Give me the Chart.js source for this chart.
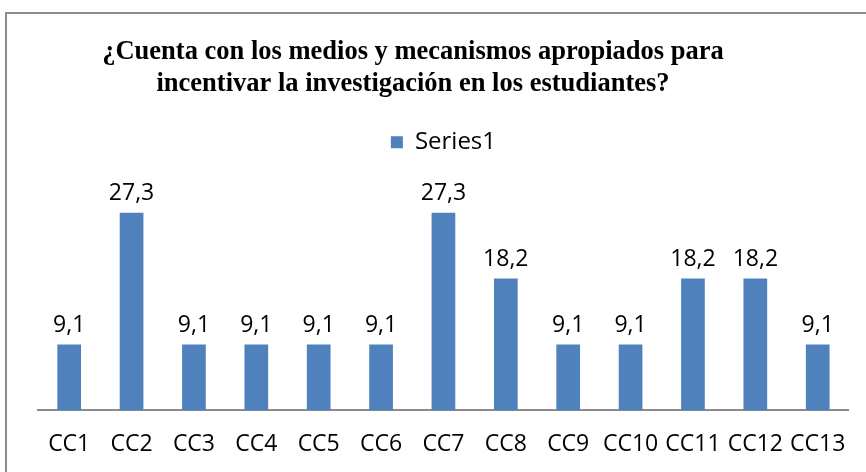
<!DOCTYPE html>
<html>
<head>
<meta charset="utf-8">
<script src="https://cdn.jsdelivr.net/npm/chart.js@4"></script>
<style>
  html, body { margin: 0; padding: 0; background: #fff; }
  #wrap { position: relative; width: 866px; height: 472px; overflow: hidden; }
  #frame { position: absolute; left: 5px; top: 12px; width: 900px; height: 500px; border: 2px solid #8c8c8c; }
  canvas { position: absolute; left: 0; top: 0; }
</style>
</head>
<body>
<div id="wrap">
  <div id="frame"></div>
  <canvas id="chart" width="866" height="472"></canvas>
</div>
<script>
"use strict";

// ── 데이터 ───────────────────────────────────
const categories = ["CC1", "CC2", "CC3", "CC4", "CC5", "CC6", "CC7", "CC8", "CC9", "CC10", "CC11", "CC12", "CC13"];
const series1 = [9.1, 27.3, 9.1, 9.1, 9.1, 9.1, 27.3, 18.2, 9.1, 9.1, 18.2, 18.2, 9.1];
const titleLines = [
  "¿Cuenta con los medios y mecanismos apropiados para",
  "incentivar la investigación en los estudiantes?"
];

const LABEL_FONT = "'Open Sans', 'Noto Sans', sans-serif";

// 막대 위 값 표시 (쉼표 소수점)
const valueLabels = {
  id: "valueLabels",
  afterDatasetsDraw(chart) {
    const ctx = chart.ctx;
    const meta = chart.getDatasetMeta(0);
    ctx.save();
    ctx.fillStyle = "#000";
    ctx.font = "23px " + LABEL_FONT;
    ctx.textAlign = "center";
    ctx.textBaseline = "bottom";
    meta.data.forEach((bar, i) => {
      const txt = series1[i].toFixed(1).replace(".", ",");
      ctx.fillText(txt, bar.x, bar.y - 8);
    });
    ctx.restore();
  }
};

new Chart(document.getElementById("chart"), {
  type: "bar",
  data: {
    labels: categories,
    datasets: [{
      label: "Series1",
      data: series1,
      backgroundColor: "#4f81bd",
      borderWidth: 0,
      barPercentage: 0.38,
      categoryPercentage: 1.0,
    }],
  },
  options: {
    responsive: false,
    animation: false,
    // 제목을 왼쪽으로 치우치게 하려고 왼쪽 여백을 음수로 둠
    layout: { padding: { left: -25, right: 15, top: 0, bottom: -6 } },
    plugins: {
      title: {
        display: true,
        text: titleLines,
        color: "#000",
        font: { family: "'Liberation Serif', 'Times New Roman', serif", size: 26.5, weight: "bold", lineHeight: 1.21 },
        padding: { top: 36, bottom: 20 },
      },
      legend: {
        display: true,
        fullSize: false,
        labels: {
          color: "#000",
          font: { family: LABEL_FONT, size: 24 },
          boxWidth: 12,
          boxHeight: 12,
          padding: 10,
        },
      },
      tooltip: { enabled: false },
    },
    scales: {
      x: {
        grid: { display: false, drawTicks: false },
        border: { display: true, color: "#8c8c8c", width: 2 },
        ticks: { color: "#000", font: { family: LABEL_FONT, size: 23 }, padding: 20, maxRotation: 0, autoSkip: false },
      },
      y: {
        display: true,
        min: 0,
        max: 34,
        grid: { display: false, drawTicks: false },
        border: { display: false },
        ticks: { display: false },
        afterFit(scale) { scale.width = 63; },
      },
    },
  },
  plugins: [valueLabels],
});
</script>
</body>
</html>
